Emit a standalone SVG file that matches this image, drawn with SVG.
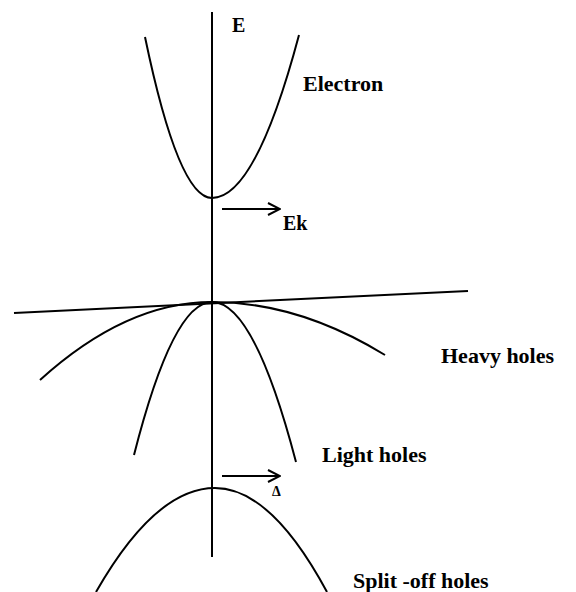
<svg xmlns="http://www.w3.org/2000/svg" width="576" height="592" viewBox="0 0 576 592">
<defs>
<marker id="ah" viewBox="0 0 14 14" refX="13" refY="7" markerWidth="14" markerHeight="14" markerUnits="userSpaceOnUse" orient="auto">
<path d="M1,1 L13,7 L1,13" fill="none" stroke="#000" stroke-width="2"/>
</marker>
<style>
.c{fill:none;stroke:#000;stroke-width:2}
.t{font-family:"Liberation Serif","Times New Roman",serif;font-weight:bold;fill:#000}
</style>
</defs>
<rect width="576" height="592" fill="#fff"/>
<g id="axis"><line class="c" x1="212" y1="12" x2="212" y2="557"/></g>
<g id="electron">
<path class="c" d="M145,37 Q178.5,198 212,198 Q255.5,198 299,35"/>
<text class="t" x="303" y="91" font-size="22">Electron</text>
</g>
<g id="tangent"><line class="c" x1="14" y1="313" x2="468" y2="291"/></g>
<g id="heavy">
<path class="c" d="M40,380 Q126,302 212,302 Q298.5,302 385,355"/>
<text class="t" x="441" y="363" font-size="22">Heavy holes</text>
</g>
<g id="light">
<path class="c" d="M134,455 Q173,302 212,302 Q254,302 296,462"/>
<text class="t" x="322" y="462" font-size="22">Light holes</text>
</g>
<g id="splitoff">
<path class="c" d="M96,592 Q155.5,488 215,488 Q271,488 327,592"/>
<text class="t" x="353" y="588" font-size="22">Split -off holes</text>
</g>
<g id="labels">
<text class="t" x="232" y="32" font-size="20">E</text>
<text class="t" x="283" y="230" font-size="20">Ek</text>
<text class="t" x="272" y="496" font-size="14" font-weight="normal">Δ</text>
</g>
<g id="connectors">
<line class="c" x1="222" y1="209" x2="280" y2="209" marker-end="url(#ah)"/>
<line class="c" x1="222" y1="476" x2="280" y2="476" marker-end="url(#ah)"/>
</g>
</svg>
